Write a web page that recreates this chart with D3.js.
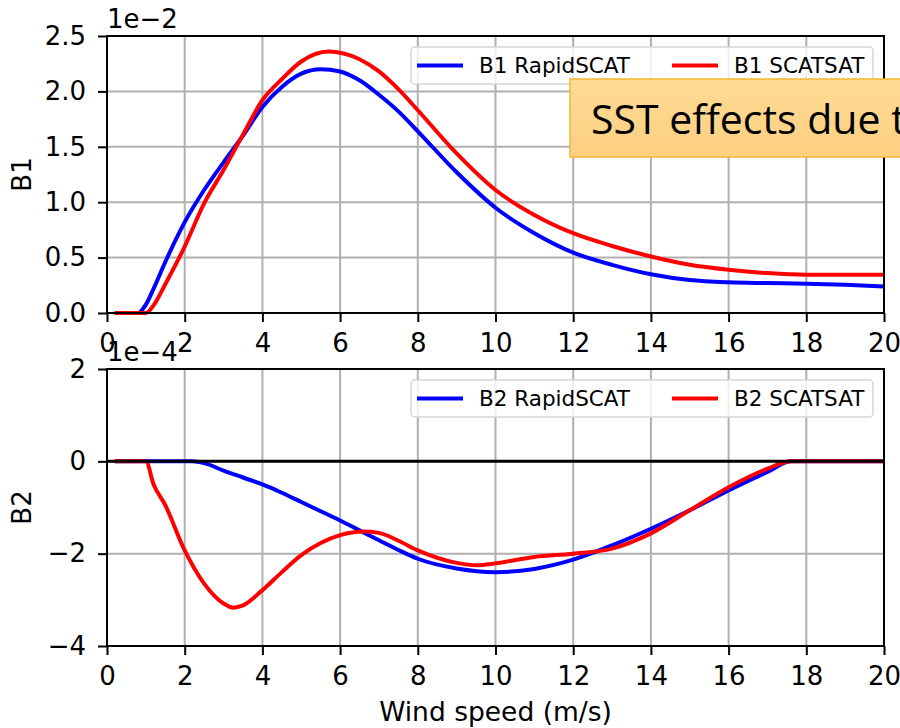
<!DOCTYPE html>
<html>
<head>
<meta charset="utf-8">
<script src="https://cdn.jsdelivr.net/npm/d3@7"></script>
<style>
  body { margin: 0; background: #fff; }
  svg text { font-family: 'DejaVu Sans', sans-serif; fill: #000; }
  .grid line { stroke: #b0b0b0; stroke-width: 2; }
  .axis line { stroke: #000; stroke-width: 2; }
  .axis path { display: none; }
  .axis text { font-size: 26px; }
</style>
</head>
<body>
<div id="chart"></div>
<script>
// wind speed samples (m/s) and coefficient values
// B1 in units of 1e-2
var windB1Rapid = [0.2, 0.8, 1.0, 1.2, 1.5, 2, 2.5, 3, 3.5, 4, 4.5, 5, 5.5, 6, 6.5, 7, 7.5, 8, 9, 10, 11, 12, 13, 14, 15, 16, 17, 18, 19, 20];
var b1Rapid = [0, 0, 0.075, 0.22, 0.46, 0.82, 1.11, 1.36, 1.6, 1.86, 2.04, 2.16, 2.2, 2.18, 2.1, 1.97, 1.82, 1.64, 1.27, 0.95, 0.72, 0.545, 0.435, 0.35, 0.298, 0.277, 0.27, 0.264, 0.255, 0.24];
var windB1Scat = [0.2, 1.0, 1.2, 1.5, 2, 2.5, 3, 3.5, 4, 4.5, 5, 5.7, 6.5, 7, 7.5, 8, 9, 10, 11, 12, 13, 14, 15, 16, 17, 18, 19, 20];
var b1Scat = [0, 0, 0.07, 0.26, 0.6, 0.99, 1.29, 1.61, 1.92, 2.11, 2.27, 2.36, 2.29, 2.18, 2.02, 1.83, 1.44, 1.11, 0.885, 0.72, 0.605, 0.51, 0.435, 0.39, 0.36, 0.345, 0.345, 0.345];

// B2 in units of 1e-4
var windB2Rapid = [0.2, 1, 2, 2.2, 2.5, 3, 3.5, 4, 4.5, 5, 5.5, 6, 6.6, 7, 7.5, 8, 9, 10, 11, 12, 13, 14, 15, 16, 17, 17.6, 18, 19, 20];
var b2Rapid = [0, 0, 0, 0, -0.04, -0.2, -0.35, -0.5, -0.68, -0.88, -1.08, -1.28, -1.54, -1.71, -1.92, -2.11, -2.32, -2.4, -2.33, -2.13, -1.82, -1.46, -1.06, -0.63, -0.23, 0, 0, 0, 0];
var windB2Scat = [0.2, 1.0, 1.2, 1.5, 2, 2.5, 3, 3.25, 3.5, 4, 4.5, 5, 5.5, 6, 6.6, 7, 7.5, 8, 9, 9.5, 10, 11, 12, 13, 14, 15, 16, 17, 17.6, 18, 19, 20];
var b2Scat = [0, 0, -0.5, -0.95, -1.93, -2.65, -3.08, -3.17, -3.12, -2.79, -2.4, -2.03, -1.77, -1.6, -1.52, -1.55, -1.72, -1.93, -2.2, -2.25, -2.21, -2.07, -2.0, -1.89, -1.56, -1.06, -0.56, -0.16, 0, 0, 0, 0];

var xTicks = [0, 2, 4, 6, 8, 10, 12, 14, 16, 18, 20];
var b1Ticks = [0, 0.5, 1.0, 1.5, 2.0, 2.5];
var b2Ticks = [-4, -2, 0, 2];

var W = 900, H = 728;
var left = 107, right = 884;

var svg = d3.select('#chart').append('svg')
  .attr('width', W)
  .attr('height', H);

function zip (xs, ys) {
  return xs.map(function (x, i) { return { x: x, y: ys[i] }; });
}

// one subplot
function drawPanel (opt) {
  var x = d3.scaleLinear().domain([0, 20]).range([left, right]);
  var y = d3.scaleLinear().domain(opt.domain).range([opt.bottom, opt.top]);
  var g = svg.append('g');

  // grid
  var grid = g.append('g').attr('class', 'grid');
  grid.selectAll('.gx').data(xTicks).enter().append('line')
    .attr('x1', function (d) { return x(d); }).attr('x2', function (d) { return x(d); })
    .attr('y1', opt.top).attr('y2', opt.bottom);
  grid.selectAll('.gy').data(opt.ticks).enter().append('line')
    .attr('y1', function (d) { return y(d); }).attr('y2', function (d) { return y(d); })
    .attr('x1', left).attr('x2', right);

  var line = d3.line()
    .x(function (d) { return x(d.x); })
    .y(function (d) { return y(d.y); })
    .curve(d3.curveMonotoneX);

  opt.series.forEach(function (s) {
    g.append('path')
      .datum(zip(s.x, s.y))
      .attr('fill', 'none')
      .attr('stroke', s.color)
      .attr('stroke-width', 4)
      .attr('stroke-linejoin', 'round')
      .attr('d', line);
  });

  if (opt.zeroLine) {
    g.append('line')
      .attr('x1', left).attr('x2', right)
      .attr('y1', y(0)).attr('y2', y(0))
      .attr('stroke', '#000').attr('stroke-width', 3);
  }

  // frame
  g.append('rect')
    .attr('x', left).attr('y', opt.top)
    .attr('width', right - left).attr('height', opt.bottom - opt.top)
    .attr('fill', 'none').attr('stroke', '#000').attr('stroke-width', 2);

  g.append('g').attr('class', 'axis')
    .attr('transform', 'translate(0,' + opt.bottom + ')')
    .call(d3.axisBottom(x).tickValues(xTicks).tickSize(9).tickPadding(12).tickFormat(d3.format('d')));
  g.append('g').attr('class', 'axis')
    .attr('transform', 'translate(' + left + ',0)')
    .call(d3.axisLeft(y).tickValues(opt.ticks).tickSize(9).tickPadding(12).tickFormat(opt.fmt));

  // offset text and y label
  g.append('text')
    .attr('x', left).attr('y', opt.top - 8)
    .style('font-size', '26px')
    .text(opt.offset);
  g.append('text')
    .attr('transform', 'translate(31,' + (opt.top + opt.bottom) / 2 + ') rotate(-90)')
    .attr('text-anchor', 'middle')
    .style('font-size', '26px')
    .text(opt.ylabel);

  // legend
  var lg = g.append('g').attr('transform', 'translate(0,' + opt.top + ')');
  lg.append('rect')
    .attr('x', 411).attr('y', 11).attr('width', 462).attr('height', 37)
    .attr('rx', 4)
    .attr('fill', '#fff').attr('fill-opacity', 0.8)
    .attr('stroke', '#d6d6d6').attr('stroke-width', 1.5);
  var lx = [417, 672];
  opt.series.forEach(function (s, i) {
    lg.append('line')
      .attr('x1', lx[i]).attr('x2', lx[i] + 46)
      .attr('y1', 29.5).attr('y2', 29.5)
      .attr('stroke', s.color).attr('stroke-width', 4);
    lg.append('text')
      .attr('x', lx[i] + 62).attr('y', 37)
      .style('font-size', '21.5px')
      .text(s.name);
  });
}

drawPanel({
  top: 36, bottom: 313, domain: [0, 2.5], ticks: b1Ticks, fmt: d3.format('.1f'),
  offset: '1e\u22122', ylabel: 'B1',
  series: [
    { name: 'B1 RapidSCAT', x: windB1Rapid, y: b1Rapid, color: '#0000ff' },
    { name: 'B1 SCATSAT', x: windB1Scat, y: b1Scat, color: '#ff0000' }
  ]
});

drawPanel({
  top: 369, bottom: 646, domain: [-4, 2], ticks: b2Ticks, fmt: d3.format('d'),
  offset: '1e\u22124', ylabel: 'B2', zeroLine: true,
  series: [
    { name: 'B2 RapidSCAT', x: windB2Rapid, y: b2Rapid, color: '#0000ff' },
    { name: 'B2 SCATSAT', x: windB2Scat, y: b2Scat, color: '#ff0000' }
  ]
});

// x label
svg.append('text')
  .attr('x', (left + right) / 2).attr('y', 721)
  .attr('text-anchor', 'middle')
  .style('font-size', '26.5px')
  .text('Wind speed (m/s)');

// slide callout box laid over the chart
var defs = svg.append('defs');
var grad = defs.append('linearGradient').attr('id', 'callout').attr('x1', 0).attr('x2', 0).attr('y1', 0).attr('y2', 1);
grad.append('stop').attr('offset', '0%').attr('stop-color', '#ffdb94');
grad.append('stop').attr('offset', '100%').attr('stop-color', '#fccf82');
svg.append('rect')
  .attr('x', 570).attr('y', 79).attr('width', 360).attr('height', 78)
  .attr('fill', 'url(#callout)')
  .attr('stroke', '#f2b72f').attr('stroke-width', 1.5);
svg.append('text')
  .attr('x', 591).attr('y', 134)
  .style('font-family', "'Open Sans', sans-serif")
  .style('font-size', '41px')
  .text('SST effects due to');
</script>
</body>
</html>
